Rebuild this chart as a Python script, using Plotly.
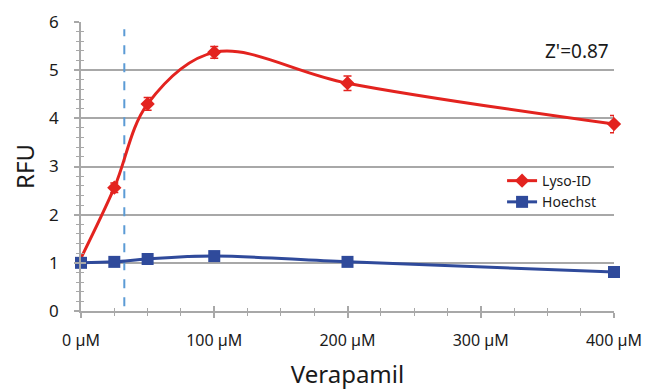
import plotly.graph_objects as go

conc = [0, 25, 50, 100, 200, 400]
lyso = [1.1, 2.56, 4.30, 5.37, 4.73, 3.88]
lyso_err = [0.0, 0.10, 0.13, 0.12, 0.15, 0.18]
hoechst = [1.0, 1.02, 1.08, 1.14, 1.02, 0.81]
threshold_x = 32.5
threshold_y = [0.1, 5.85]
x_ticks = [0, 100, 200, 300, 400]
x_ticklabels = ["0 µM", "100 µM", "200 µM", "300 µM", "400 µM"]
y_ticks = [0, 1, 2, 3, 4, 5, 6]

RED = "#e3231f"
BLUE = "#2f4a9b"
GRID = "#a8a8a8"
FONT = "Noto Sans"

fig = go.Figure()

fig.add_trace(go.Scatter(
    x=[threshold_x, threshold_x], y=threshold_y, mode="lines",
    line=dict(color="#5b9bd5", width=2, dash="dash"),
    showlegend=False, hoverinfo="skip"))

# first Lyso-ID point has no visible marker in the original
fig.add_trace(go.Scatter(
    x=conc, y=lyso, name="Lyso-ID", mode="lines+markers",
    line=dict(color=RED, width=3, shape="spline", smoothing=1),
    marker=dict(symbol="diamond", size=11, color=RED),
    selectedpoints=list(range(1, len(conc))),
    selected=dict(marker=dict(opacity=1)),
    unselected=dict(marker=dict(opacity=0)),
    error_y=dict(type="data", array=lyso_err, color=RED, thickness=1.5, width=4),
    cliponaxis=False))

fig.add_trace(go.Scatter(
    x=conc, y=hoechst, name="Hoechst", mode="lines+markers",
    line=dict(color=BLUE, width=3, shape="spline", smoothing=1),
    marker=dict(symbol="square", size=12, color=BLUE),
    cliponaxis=False))

# invisible trace on overlay axes so that inside ticks render
fig.add_trace(go.Scatter(x=[0], y=[0], xaxis="x2", yaxis="y2",
                         mode="markers", marker=dict(opacity=0),
                         showlegend=False, hoverinfo="skip"))

axis_common = dict(showline=True, linecolor=GRID, linewidth=1.5,
                   tickcolor=GRID, zeroline=False, automargin=False)

fig.update_layout(
    width=646, height=390,
    paper_bgcolor="white", plot_bgcolor="white",
    margin=dict(l=81, r=32, t=22, b=79),
    font=dict(family=FONT, size=15, color="#1a1a1a"),
    xaxis=dict(range=[0, 400], tickvals=x_ticks, ticktext=x_ticklabels,
               ticks="outside", ticklen=5, tickwidth=1.5, ticklabelstandoff=9,
               tickfont=dict(size=16),
               minor=dict(dtick=25, ticks="outside", ticklen=3, tickcolor=GRID, tickwidth=1),
               showgrid=False,
               title=dict(text="Verapamil", font=dict(size=24), standoff=16),
               **axis_common),
    yaxis=dict(range=[0, 6], tickvals=y_ticks,
               ticks="outside", ticklen=5, tickwidth=1.5, ticklabelstandoff=12,
               tickfont=dict(size=17),
               minor=dict(dtick=0.2, ticks="outside", ticklen=3, tickcolor=GRID, tickwidth=1),
               showgrid=True, gridcolor=GRID, gridwidth=1.5,
               title=dict(text="RFU", font=dict(size=24), standoff=8),
               **axis_common),
    xaxis2=dict(range=[0, 400], overlaying="x", anchor="y", tickvals=x_ticks,
                ticks="inside", ticklen=5, tickwidth=1.5, tickcolor=GRID,
                showticklabels=False, showgrid=False, zeroline=False,
                minor=dict(dtick=25, ticks="inside", ticklen=3, tickcolor=GRID, tickwidth=1)),
    yaxis2=dict(range=[0, 6], overlaying="y", anchor="x", side="left", tickvals=y_ticks,
                ticks="inside", ticklen=5, tickwidth=1.5, tickcolor=GRID,
                showticklabels=False, showgrid=False, zeroline=False,
                minor=dict(dtick=0.2, ticks="inside", ticklen=3, tickcolor=GRID, tickwidth=1)),
    legend=dict(x=0.79, y=0.505, xanchor="left", yanchor="top",
                bgcolor="rgba(0,0,0,0)", font=dict(size=14),
                itemwidth=30, tracegroupgap=0),
    annotations=[dict(text="Z'=0.87", x=0.995, y=0.9, xref="paper", yref="paper",
                      xanchor="right", yanchor="middle", showarrow=False,
                      font=dict(size=19))],
)

fig.write_html(
    "out.html",
    config={"displayModeBar": False},
    post_script="document.body.style.margin='0';"
                "document.documentElement.style.overflow='hidden';",
)
